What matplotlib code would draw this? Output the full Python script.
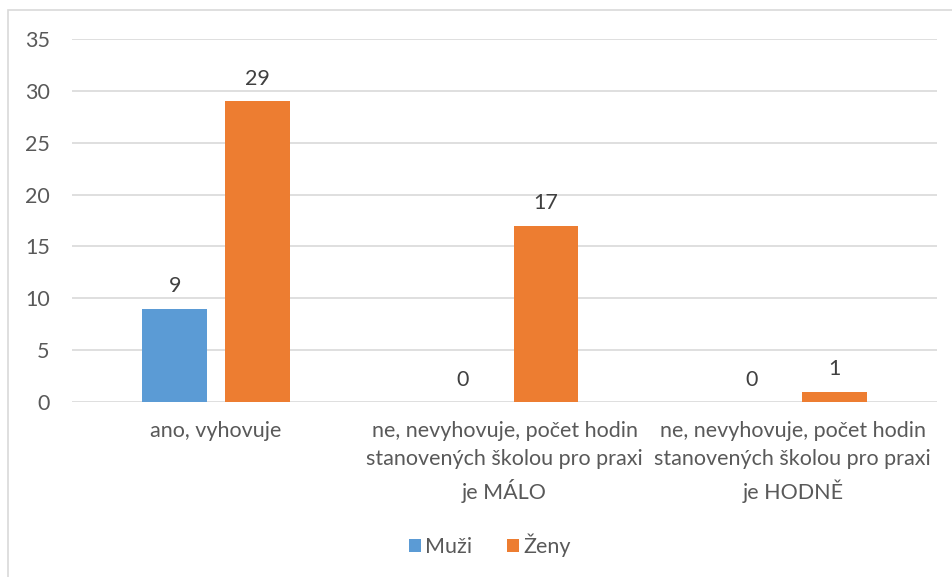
import matplotlib as mpl
mpl.use('Agg')
import matplotlib.pyplot as plt
import numpy as np

categories = ['ano, vyhovuje',
              'ne, nevyhovuje, počet hodin\nstanovených školou pro praxi\nje MÁLO',
              'ne, nevyhovuje, počet hodin\nstanovených školou pro praxi\nje HODNĚ']
muzi = [9, 0, 0]
zeny = [29, 17, 1]

plt.rcParams['font.family'] = ['Lato', 'DejaVu Sans']
TXT = '#595959'
FS = 15.5

fig = plt.figure(figsize=(9.52, 5.77), dpi=100)
# chart frame (right and bottom edges cut off in the reference)
fig.patches.append(plt.Rectangle((8 / 952, -0.1), 1.2, 1 - 10 / 577 + 0.1,
                                 transform=fig.transFigure, fill=False,
                                 edgecolor='#d9d9d9', linewidth=1.2))

ax = fig.add_axes([72 / 952, 1 - 402 / 577, (937 - 72) / 952, (402 - 39) / 577])

x = np.arange(len(categories))
w = 0.225
off = 0.144
b1 = ax.bar(x - off, muzi, w, color='#5b9bd5', label='Muži')
b2 = ax.bar(x + off, zeny, w, color='#ed7d31', label='Ženy')

for bars in (b1, b2):
    for r in bars:
        ax.annotate(f'{int(r.get_height())}', (r.get_x() + r.get_width() / 2, r.get_height()),
                    xytext=(0, 9), textcoords='offset points', ha='center', va='bottom',
                    fontsize=FS, color='#404040')

ax.set_xlim(-0.5, 2.5)
ax.set_ylim(0, 35)
ax.set_yticks(range(0, 36, 5))
ax.yaxis.grid(True, color='#d9d9d9', linewidth=1.2)
ax.set_axisbelow(True)
for s in ax.spines.values():
    s.set_visible(False)
ax.tick_params(axis='y', length=0, pad=16, labelsize=FS, labelcolor=TXT)
ax.tick_params(axis='x', length=0, pad=14, labelsize=FS, labelcolor=TXT)
ax.set_xticks(x)
ax.set_xticklabels(categories, linespacing=1.5)

ax.legend(loc='center', bbox_to_anchor=((490 - 72) / 865, -0.394), ncol=2, frameon=False,
          fontsize=FS, labelcolor=TXT, handlelength=0.55, handleheight=0.55,
          handletextpad=0.2, columnspacing=1.6)

fig.savefig('out.png', dpi=100)
